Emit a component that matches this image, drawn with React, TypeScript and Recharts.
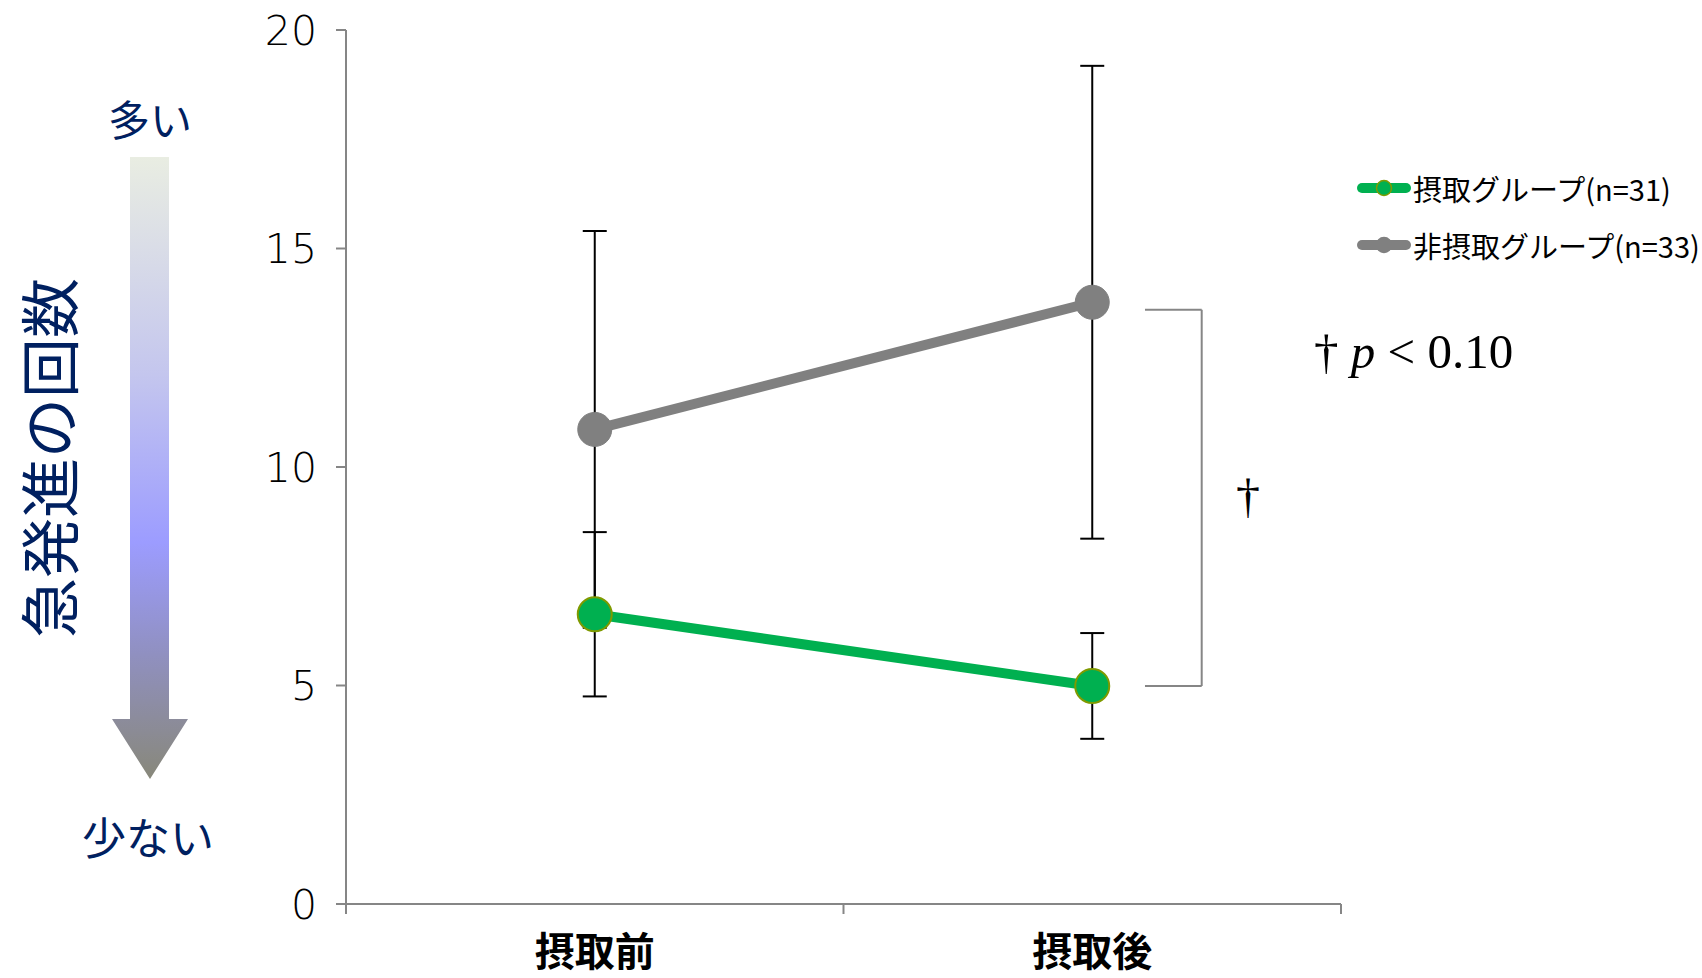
import React from 'react';
import { LineChart, Line, XAxis, YAxis, ErrorBar, ReferenceLine } from 'recharts';

// values
const phases = ['摂取前', '摂取後'];
const intakeMean = [6.63, 4.99];
const intakeSd = [1.88, 1.21];
const nonIntakeMean = [10.86, 13.77];
const nonIntakeSd = [4.54, 5.41];
const yTicks = [0, 5, 10, 15, 20];
const xTicks = [0, 0.5, 1, 1.5, 2];
const bracketTop = 13.6;
const bracketBottom = 4.99;

const GREEN = '#00B050';
const GREEN_EDGE = '#7F9A00';
const GRAY = '#808080';
const AXIS = '#868686';
const NAVY = '#002060';
const JP = '"Noto Sans CJK JP", "Noto Sans", sans-serif';
const NUM = '"DejaVu Sans", sans-serif';
const SERIF = '"Liberation Serif", "DejaVu Serif", serif';

const data = phases.map((name, i) => ({
  x: i + 0.5,
  name,
  intake: intakeMean[i],
  intakeErr: intakeSd[i],
  nonIntake: nonIntakeMean[i],
  nonIntakeErr: nonIntakeSd[i],
}));

const series = [
  { key: 'intake', label: '摂取グループ(n=31)', color: GREEN, edge: GREEN_EDGE },
  { key: 'nonIntake', label: '非摂取グループ(n=33)', color: GRAY, edge: GRAY },
];

function XTick({ x, y, payload }: any) {
  const v = payload.value as number;
  if (Number.isInteger(v)) {
    return <line x1={x} x2={x} y1={y} y2={y + 10} stroke={AXIS} strokeWidth={2} />;
  }
  return (
    <text x={x} y={y + 62} textAnchor="middle" fontSize={40} fontWeight={700} fontFamily={JP} fill="#000">
      {phases[Math.floor(v)]}
    </text>
  );
}

function SideNote() {
  return (
    <svg width={260} height={978} style={{ position: 'absolute', left: 0, top: 0 }}>
      <defs>
        <linearGradient id="arrowFill" x1="0" y1="157" x2="0" y2="779" gradientUnits="userSpaceOnUse">
          <stop offset="0" stopColor="#E9EDE2" />
          <stop offset="0.35" stopColor="#C4C6EE" />
          <stop offset="0.62" stopColor="#9C9CFF" />
          <stop offset="0.8" stopColor="#9090C0" />
          <stop offset="1" stopColor="#88887A" />
        </linearGradient>
      </defs>
      <polygon points="130,157 169,157 169,719 188,719 150,779 112,719 130,719" fill="url(#arrowFill)" />
      <text x={150} y={117} textAnchor="middle" dominantBaseline="central" fontSize={42} fontFamily={JP} fill={NAVY}>
        多い
      </text>
      <text x={148} y={836} textAnchor="middle" dominantBaseline="central" fontSize={44} fontFamily={JP} fill={NAVY}>
        少ない
      </text>
      <text
        x={46}
        y={458}
        transform="rotate(-90 46 458)"
        textAnchor="middle"
        dominantBaseline="central"
        fontSize={60}
        fontFamily={JP}
        fill={NAVY}
      >
        急発進の回数
      </text>
    </svg>
  );
}

function SeriesLegend() {
  return (
    <div style={{ position: 'absolute', left: 1357, top: 170, fontFamily: JP, fontSize: 29, color: '#000' }}>
      {series.map((s) => (
        <div key={s.key} style={{ display: 'flex', alignItems: 'center', height: 36, marginBottom: 21 }}>
          <svg width={54} height={20} style={{ marginRight: 2 }}>
            <line x1={5} x2={49} y1={10} y2={10} stroke={s.color} strokeWidth={10} strokeLinecap="round" />
            <circle cx={27} cy={10} r={7.5} fill={s.color} stroke={s.edge} strokeWidth={1.5} />
          </svg>
          <span style={{ whiteSpace: 'nowrap', lineHeight: '36px' }}>{s.label}</span>
        </div>
      ))}
    </div>
  );
}

export default function App() {
  return (
    <div style={{ position: 'absolute', left: 0, top: 0, width: 1702, height: 978, background: '#fff' }}>
      <SideNote />
      <LineChart width={1702} height={978} data={data} margin={{ top: 30, right: 361, bottom: 0, left: 266 }}>
        <XAxis
          type="number"
          dataKey="x"
          domain={[0, 2]}
          ticks={xTicks}
          interval={0}
          height={74}
          tickSize={0}
          tickMargin={0}
          tickLine={false}
          axisLine={{ stroke: AXIS, strokeWidth: 2 }}
          tick={<XTick />}
        />
        <YAxis
          type="number"
          domain={[0, 20]}
          ticks={yTicks}
          interval={0}
          width={80}
          tickSize={10}
          tickMargin={19}
          axisLine={{ stroke: AXIS, strokeWidth: 2 }}
          tickLine={{ stroke: AXIS, strokeWidth: 2 }}
          tick={{ fill: '#000', fontSize: 41, fontFamily: NUM, fontWeight: 200 }}
        />
        <ReferenceLine
          segment={[{ x: 1.606, y: bracketTop }, { x: 1.72, y: bracketTop }]}
          stroke={AXIS}
          strokeWidth={2}
          ifOverflow="visible"
        />
        <ReferenceLine
          segment={[{ x: 1.72, y: bracketTop }, { x: 1.72, y: bracketBottom }]}
          stroke={AXIS}
          strokeWidth={2}
          ifOverflow="visible"
        />
        <ReferenceLine
          segment={[{ x: 1.606, y: bracketBottom }, { x: 1.72, y: bracketBottom }]}
          stroke={AXIS}
          strokeWidth={2}
          ifOverflow="visible"
        />
        <Line
          dataKey="nonIntake"
          stroke={GRAY}
          strokeWidth={10}
          dot={{ r: 17, fill: GRAY, stroke: GRAY, strokeWidth: 1 }}
          activeDot={false}
          isAnimationActive={false}
        >
          <ErrorBar dataKey="nonIntakeErr" direction="y" width={12} stroke="#000" strokeWidth={2} />
        </Line>
        <Line
          dataKey="intake"
          stroke={GREEN}
          strokeWidth={10}
          dot={{ r: 17, fill: GREEN, stroke: GREEN_EDGE, strokeWidth: 2 }}
          activeDot={false}
          isAnimationActive={false}
        >
          <ErrorBar dataKey="intakeErr" direction="y" width={12} stroke="#000" strokeWidth={2} />
        </Line>
      </LineChart>
      <svg width={1702} height={978} style={{ position: 'absolute', left: 0, top: 0, pointerEvents: 'none' }}>
        <text x={1248} y={512} textAnchor="middle" fontSize={48} fontFamily={SERIF} fill="#000">
          †
        </text>
        <text x={1314} y={368} fontSize={49} fontFamily={SERIF} fill="#000">
          † <tspan fontStyle="italic">p</tspan> &lt; 0.10
        </text>
      </svg>
      <SeriesLegend />
    </div>
  );
}
